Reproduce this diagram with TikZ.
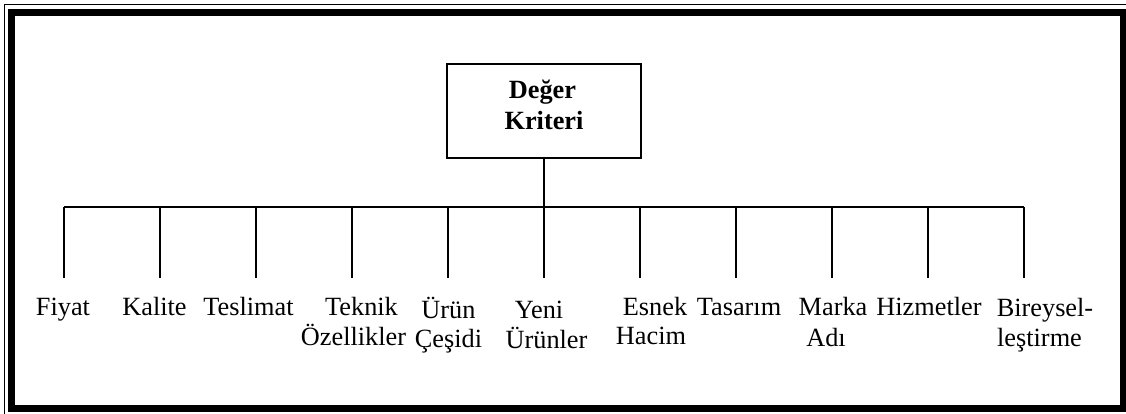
\documentclass[tikz,border=0pt]{standalone}
\usepackage{fontspec}
\setmainfont{Liberation Serif}
\begin{document}
\begin{tikzpicture}[x=1pt,y=-1pt,
  conn/.style={line width=2pt},
  lbl/.style={anchor=base,inner sep=0pt,font=\fontsize{26.3}{30}\selectfont},
  rootbox/.style={draw,line width=2pt,minimum width=194pt,minimum height=93.5pt,inner sep=0pt}]
\useasboundingbox (0,0) rectangle (1126,414);
% frame
\draw[line width=1.4pt] (4.5,414) -- (4.5,4.5) -- (1126,4.5);
\draw[line width=7pt] (11.5,12.5) rectangle (1123,408.5);
% root
\node[rootbox] (root) at (544,111.25) {};
\node[lbl,font=\fontsize{26.3}{30}\selectfont\bfseries] (r1) at (542.5,99) {Değer};
\node[lbl,font=\fontsize{26.3}{30}\selectfont\bfseries] (r2) at (544,130) {Kriteri};
% bar coordinates
\foreach \i in {1,...,11} {
  \coordinate (b\i) at ({64+(\i-1)*96},207);
  \coordinate (t\i) at ({64+(\i-1)*96},278);
}
\draw[conn] (root.south) -- (b6);
\draw[conn] (b1) -- (b11);
\foreach \i in {1,...,11} { \draw[conn] (b\i) -- (t\i); }
% labels
\node[lbl] (l1) at (63,315.5) {Fiyat};
\node[lbl] (l2) at (154.5,315.5) {Kalite};
\node[lbl] (l3) at (248.5,315.5) {Teslimat};
\node[lbl] (l4a) at (361.5,315) {Teknik};
\node[lbl] (l4b) at (353.5,345) {Özellikler};
\node[lbl] (l5a) at (448.5,318) {Ürün};
\node[lbl] (l5b) at (448.5,347.5) {Çeşidi};
\node[lbl] (l6a) at (539,318) {Yeni};
\node[lbl] (l6b) at (546.5,348) {Ürünler};
\node[lbl] (l7a) at (655,315.5) {Esnek};
\node[lbl] (l7b) at (651,344.5) {Hacim};
\node[lbl] (l8) at (739,315.5) {Tasarım};
\node[lbl] (l9a) at (833,315.5) {Marka};
\node[lbl] (l9b) at (826,346.5) {Adı};
\node[lbl] (l10) at (929,315.5) {Hizmetler};
\node[lbl] (l11a) at (1045,316) {Bireysel-};
\node[lbl] (l11b) at (1039.5,346.5) {leştirme};
\end{tikzpicture}
\end{document}
